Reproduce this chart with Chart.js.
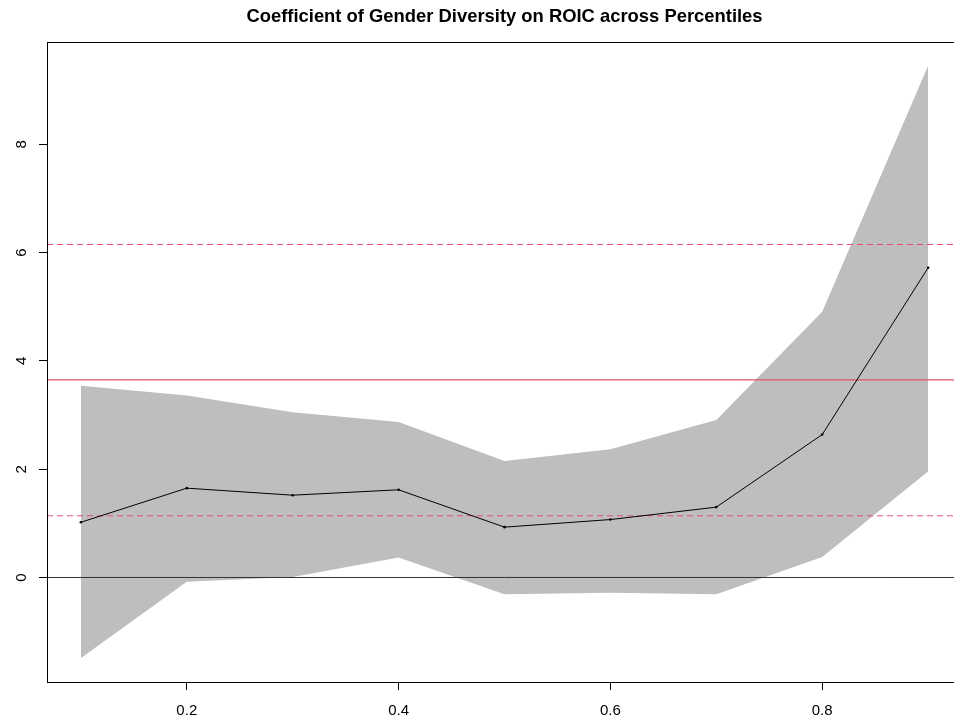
<!DOCTYPE html>
<html>
<head>
<meta charset="utf-8">
<title>Coefficient of Gender Diversity on ROIC across Percentiles</title>
<script src="https://cdn.jsdelivr.net/npm/chart.js@4/dist/chart.umd.min.js"></script>
<style>
  html, body { margin: 0; padding: 0; background: #fff; overflow: hidden; }
  #wrap { width: 954px; height: 725px; overflow: hidden; }
</style>
</head>
<body>
<div id="wrap"><canvas id="chart" width="980" height="725"></canvas></div>
<script>
// quantile regression results
const percentiles = [0.1, 0.2, 0.3, 0.4, 0.5, 0.6, 0.7, 0.8, 0.9];
const coef  = [1.02, 1.65, 1.52, 1.62, 0.93, 1.07, 1.30, 2.64, 5.72];
const upper = [3.54, 3.36, 3.05, 2.87, 2.15, 2.37, 2.91, 4.91, 9.45];
const lower = [-1.49, -0.08, 0.01, 0.37, -0.31, -0.28, -0.31, 0.38, 1.96];

// OLS estimate and its interval
const olsCoef = 3.65;
const olsLower = 1.14;
const olsUpper = 6.15;

// axes
const xRange = [0.068, 0.932];
const yRange = [-1.93, 9.89];
const xTicks = [0.2, 0.4, 0.6, 0.8];
const yTicks = [0, 2, 4, 6, 8];

const TITLE = 'Coefficient of Gender Diversity on ROIC across Percentiles';
const RED = '#DF536B';
const GREY = '#BEBEBE';

function pts(ys) {
    return percentiles.map((p, i) => ({ x: p, y: ys[i] }));
}
function hline(y) {
    return xRange.map(x => ({ x: x, y: y }));
}

// R-like box and title
const boxPlugin = {
    id: 'box',
    afterDraw(chart) {
        const a = chart.chartArea;
        const ctx = chart.ctx;
        ctx.save();
        ctx.strokeStyle = '#000';
        ctx.lineWidth = 1;
        ctx.strokeRect(a.left + 0.5, a.top + 0.5, a.right - a.left, a.bottom - a.top);
        ctx.fillStyle = '#000';
        ctx.font = 'bold 18.4px "Liberation Sans", Arial, sans-serif';
        ctx.textAlign = 'center';
        ctx.textBaseline = 'middle';
        ctx.fillText(TITLE, (a.left + a.right) / 2, 17);
        ctx.restore();
    }
};

const tickFont = { family: '"Liberation Sans", Arial, sans-serif', size: 15 };

new Chart(document.getElementById('chart'), {
    type: 'line',
    data: {
        datasets: [
            {
                label: 'coef',
                data: pts(coef),
                borderColor: '#000',
                backgroundColor: '#000',
                borderWidth: 1,
                pointRadius: 1.3,
                pointBorderWidth: 0,
                fill: false,
                order: 1
            },
            {
                label: 'zero',
                data: hline(0),
                borderColor: '#333',
                borderWidth: 1,
                pointRadius: 0,
                fill: false,
                order: 2
            },
            {
                label: 'ols',
                data: hline(olsCoef),
                borderColor: RED,
                borderWidth: 1.3,
                pointRadius: 0,
                fill: false,
                order: 2
            },
            {
                label: 'ols lower',
                data: hline(olsLower),
                borderColor: RED,
                borderWidth: 1,
                borderDash: [6, 4],
                pointRadius: 0,
                fill: false,
                order: 2
            },
            {
                label: 'ols upper',
                data: hline(olsUpper),
                borderColor: RED,
                borderWidth: 1,
                borderDash: [6, 4],
                pointRadius: 0,
                fill: false,
                order: 2
            },
            {
                label: 'upper',
                data: pts(upper),
                borderWidth: 0,
                borderColor: GREY,
                pointRadius: 0,
                fill: '+1',
                backgroundColor: GREY,
                order: 3
            },
            {
                label: 'lower',
                data: pts(lower),
                borderWidth: 0,
                borderColor: GREY,
                pointRadius: 0,
                fill: false,
                order: 3
            }
        ]
    },
    options: {
        responsive: false,
        animation: false,
        devicePixelRatio: 1,
        layout: { padding: { top: 42, right: 18, left: 0, bottom: 0 } },
        plugins: {
            legend: { display: false },
            tooltip: { enabled: false },
            title: { display: false }
        },
        scales: {
            x: {
                type: 'linear',
                min: xRange[0],
                max: xRange[1],
                afterBuildTicks: s => { s.ticks = xTicks.map(v => ({ value: v })); },
                afterFit: s => { s.height = 43; },
                border: { display: false },
                grid: { drawOnChartArea: false, drawTicks: true, tickLength: 8, color: '#000' },
                ticks: {
                    color: '#000',
                    font: tickFont,
                    padding: 12,
                    maxRotation: 0,
                    autoSkip: false,
                    callback: v => v.toFixed(1)
                }
            },
            y: {
                type: 'linear',
                min: yRange[0],
                max: yRange[1],
                afterBuildTicks: s => { s.ticks = yTicks.map(v => ({ value: v })); },
                afterFit: s => { s.width = 47; },
                border: { display: false },
                grid: { drawOnChartArea: false, drawTicks: true, tickLength: 8, color: '#000' },
                ticks: {
                    color: '#000',
                    font: tickFont,
                    padding: 13,
                    minRotation: 90,
                    maxRotation: 90,
                    crossAlign: 'center',
                    autoSkip: false,
                    callback: v => String(v)
                }
            }
        }
    },
    plugins: [boxPlugin]
});
</script>
</body>
</html>
